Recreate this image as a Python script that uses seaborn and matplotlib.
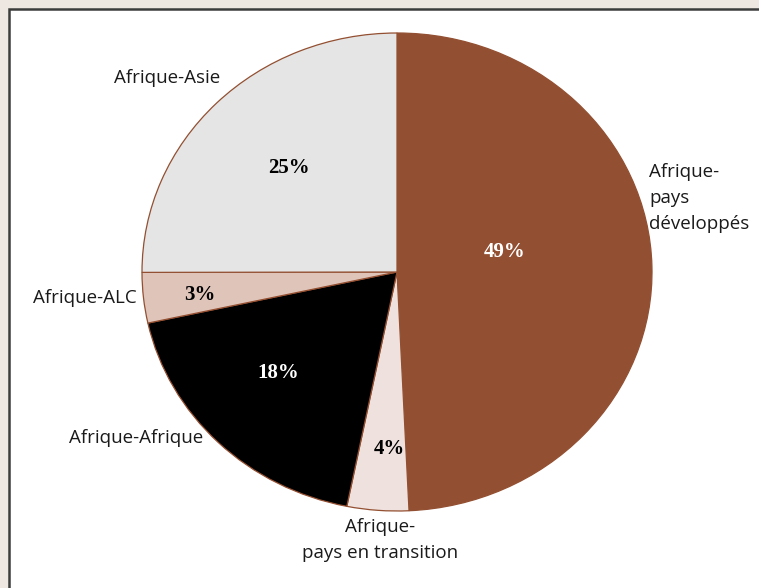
import matplotlib
matplotlib.use("Agg")
import matplotlib.pyplot as plt
import matplotlib.patches as mpatches
import seaborn as sns

sns.set_theme(style="white")
plt.rcParams["font.family"] = ["Open Sans", "DejaVu Sans"]

# Données
categories = ["Afrique-\npays\ndéveloppés", "Afrique-\npays en transition",
              "Afrique-Afrique", "Afrique-ALC", "Afrique-Asie"]
parts = [49.2, 3.9, 18.4, 3.4, 25.0]
couleurs = ["#934f31", "#efe1dd", "#000000", "#dfc4ba", "#e5e5e5"]
couleurs_pct = ["white", "black", "white", "black", "black"]

# positions des étiquettes (coordonnées de l'axe du camembert)
pos_labels = [(0.99, 0.31), (-0.067, -1.121), (-0.76, -0.695), (-1.02, -0.11), (-0.90, 0.81)]
align_labels = ["left", "center", "right", "right", "center"]
pos_pct = [(0.424, 0.084), (-0.031, -0.741), (-0.467, -0.423), (-0.773, -0.096), (-0.424, 0.435)]

fig = plt.figure(figsize=(7.59, 5.88), dpi=100)
fig.patch.set_facecolor("#eee6e0")

# cadre blanc
cadre = mpatches.Rectangle((9 / 759, -0.1), 1.2, 1 - 9 / 588 + 0.1,
                           transform=fig.transFigure, facecolor="white",
                           edgecolor="#3c3c3c", linewidth=1.8, zorder=-5)
fig.patches.append(cadre)

ax = fig.add_axes([142 / 759, 77 / 588, 510 / 759, 478 / 588])
ax.patch.set_alpha(0)
wedges, _ = ax.pie(parts, colors=couleurs, startangle=90, counterclock=False,
                   wedgeprops=dict(edgecolor="#934f31", linewidth=0.9))
ax.set_aspect("auto")
ax.set_xlim(-1, 1)
ax.set_ylim(-1, 1)
ax.axis("off")

for lab, (x, y), ha in zip(categories, pos_labels, align_labels):
    ax.text(x, y, lab, ha=ha, va="center", fontsize=13.5, color="#1a1a1a",
            linespacing=1.6, clip_on=False)

for v, (x, y), c in zip(parts, pos_pct, couleurs_pct):
    ax.text(x, y, f"{round(v)}%", ha="center", va="center", fontsize=15,
            fontweight="bold", family="Liberation Serif", color=c)

fig.savefig("out.png", dpi=100, facecolor=fig.get_facecolor())
